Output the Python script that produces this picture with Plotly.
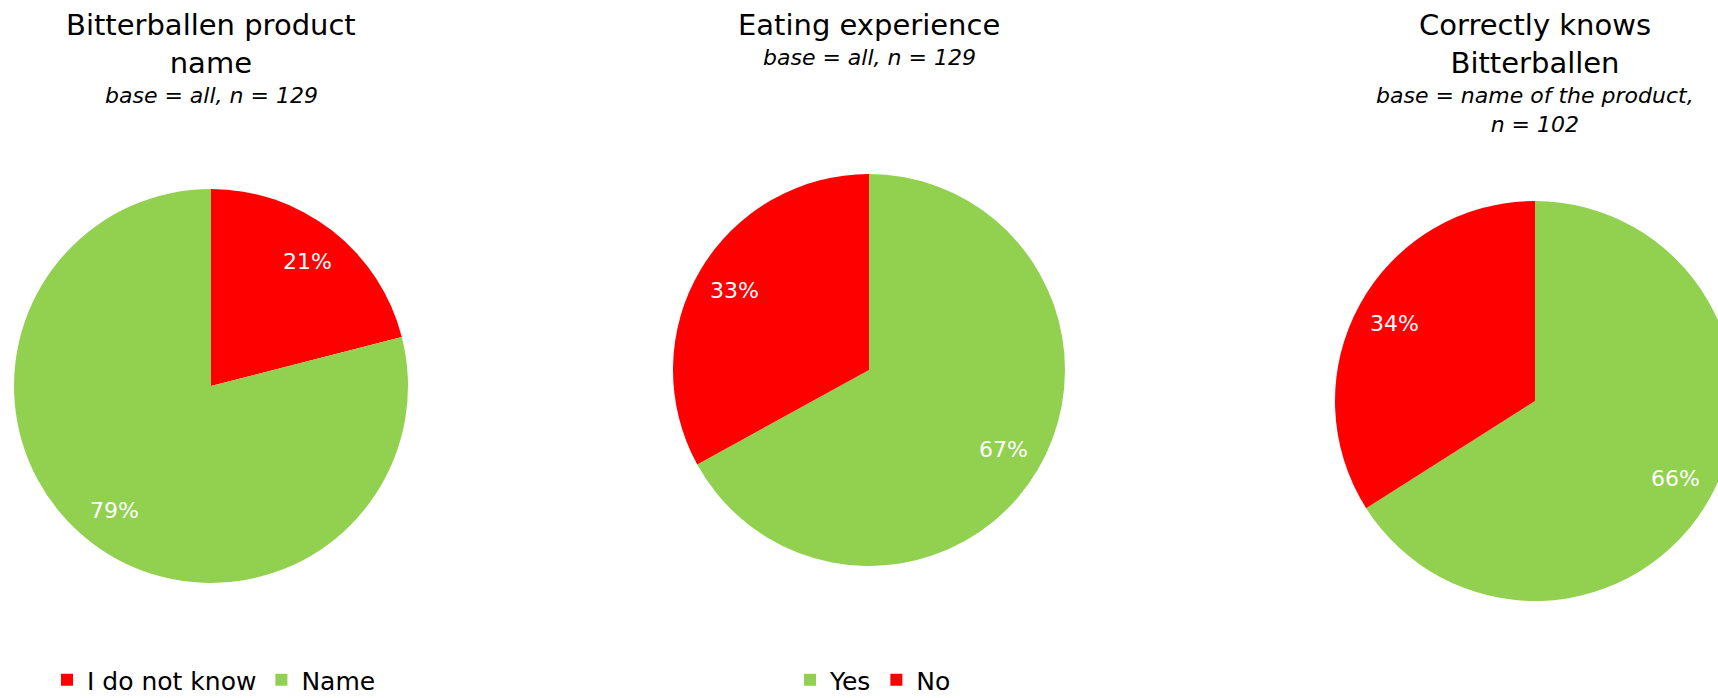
import math
import plotly.graph_objects as go

# Canvas (slightly wider than the view so the right-hand pie runs off the edge)
W, H = 1740, 698

# --- data ---------------------------------------------------------------
name_labels = ["I do not know", "Name"]
name_values = [21, 79]

eat_labels = ["Yes", "No"]
eat_values = [67, 33]

know_labels = ["Yes", "No"]
know_values = [66, 34]

titles = ["Bitterballen product<br>name", "Eating experience", "Correctly knows<br>Bitterballen"]
subtitles = ["base = all, n = 129", "base = all, n = 129", "base = name of the product,<br>n = 102"]

RED = "#FF0000"
GREEN = "#92D050"
color_map = {"I do not know": RED, "Name": GREEN, "Yes": GREEN, "No": RED}

FONT = "'DejaVu Sans', sans-serif"

# pixel geometry of each panel: pie centre, radius, title/subtitle tops, legend centre
panels = [
    dict(labels=name_labels, values=name_values, cx=211, cy=386, r=197,
         title_top=6, sub_top=81, legend_x=214),
    dict(labels=eat_labels, values=eat_values, cx=869, cy=370, r=196,
         title_top=6, sub_top=43, legend_x=873),
    dict(labels=know_labels, values=know_values, cx=1535, cy=401, r=200,
         title_top=6, sub_top=81, legend_x=1539),
]

fig = go.Figure()
annotations = []
legend_names = ["legend", "legend2", "legend3"]

for i, p in enumerate(panels):
    cx, cy, r = p["cx"], p["cy"], p["r"]
    fig.add_trace(go.Pie(
        labels=p["labels"],
        values=p["values"],
        marker=dict(colors=[color_map[l] for l in p["labels"]], line=dict(width=0)),
        sort=False,
        direction="clockwise",
        rotation=0,
        textinfo="none",
        hoverinfo="label+percent",
        domain=dict(x=[(cx - r) / W, (cx + r) / W],
                    y=[1 - (cy + r) / H, 1 - (cy - r) / H]),
        legend=legend_names[i],
        showlegend=True,
    ))

    # percentage labels placed at 80% of the radius, mid-angle of each slice
    total = sum(p["values"])
    start = 0.0
    for v in p["values"]:
        mid = math.radians((start + v / 2) / total * 360)
        start += v
        lx = cx + 0.8 * r * math.sin(mid)
        ly = cy - 0.8 * r * math.cos(mid)
        annotations.append(dict(
            x=lx / W, y=1 - ly / H, xref="paper", yref="paper",
            text=f"{round(v / total * 100)}%", showarrow=False,
            font=dict(family=FONT, size=22, color="white"),
            xanchor="center", yanchor="middle",
        ))

    annotations.append(dict(
        x=cx / W, y=1 - p["title_top"] / H, xref="paper", yref="paper",
        text=titles[i], showarrow=False,
        font=dict(family=FONT, size=29, color="black"),
        xanchor="center", yanchor="top",
    ))
    annotations.append(dict(
        x=cx / W, y=1 - p["sub_top"] / H, xref="paper", yref="paper",
        text=f"<i>{subtitles[i]}</i>", showarrow=False,
        font=dict(family=FONT, size=22, color="black"),
        xanchor="center", yanchor="top",
    ))

legend_style = dict(
    orientation="h", xanchor="center", yanchor="middle", y=1 - 680 / H,
    font=dict(family=FONT, size=25, color="black"),
    itemwidth=30, traceorder="normal", bgcolor="rgba(0,0,0,0)",
)

fig.update_layout(
    width=W, height=H,
    margin=dict(l=0, r=0, t=0, b=0, autoexpand=False),
    paper_bgcolor="white", plot_bgcolor="white",
    annotations=annotations,
    legend=dict(x=panels[0]["legend_x"] / W, **legend_style),
    legend2=dict(x=panels[1]["legend_x"] / W, **legend_style),
    legend3=dict(x=panels[2]["legend_x"] / W, **legend_style),
)

fig.write_html(
    "out.html",
    post_script="document.documentElement.style.overflow='hidden';"
                "document.body.style.overflow='hidden';document.body.style.margin='0';",
)
